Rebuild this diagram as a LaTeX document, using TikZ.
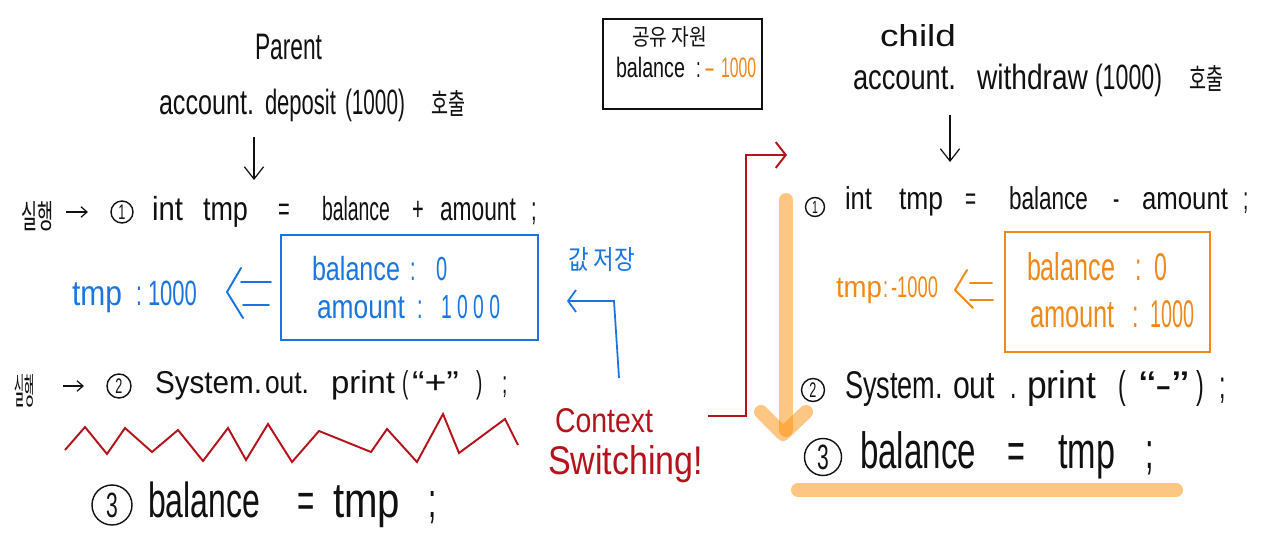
\documentclass[tikz,border=0pt]{standalone}
\usepackage{graphicx}
\usepackage{fontspec}
\setmainfont{Liberation Sans}[FakeStretch=0.6]
\newfontfamily\kr{Noto Sans CJK KR}
\usetikzlibrary{arrows.meta}
\newlength\px \setlength\px{0.02cm}
\newcommand\tk[2]{\makebox[#1\px][l]{#2}}
\newcommand\tw[3]{\makebox[#1\px][l]{\resizebox{#2\px}{\height}{#3}}}
\newcommand\fs[1]{\fontsize{#1}{#1}\selectfont}
\definecolor{ink}{HTML}{111111}
\definecolor{hblue}{HTML}{1A75E0}
\definecolor{horange}{HTML}{F0891A}
\definecolor{hred}{HTML}{B5121B}
\definecolor{hl}{HTML}{FD8E07}
\begin{document}
\begin{tikzpicture}[x=0.02cm,y=-0.02cm,
  txt/.style={anchor=base west, inner sep=0pt, outer sep=0pt, text=ink},
  cnum/.style={circle, draw=ink, line width=0.8pt, inner sep=0pt, text=ink},
  darr/.style={draw=ink, line width=0.7pt, -{Straight Barb[length=7pt,width=11pt]}},
  sarr/.style={draw=ink, line width=0.7pt, -{Straight Barb[length=3.5pt,width=6pt]}},
  hilite/.style={draw=hl, opacity=0.5, line width=14\px, line cap=round, line join=round},
  chev/.style={line width=1.1pt, line cap=round, line join=round}]
\useasboundingbox (0,0) rectangle (1280,550);
\fill[white] (0,0) rectangle (1280,550);

% ---------- highlight strokes (child side) ----------
\draw[hilite] (786,200) -- (786,430);
\draw[hilite] (761,412) -- (783,434) -- (806,412);
\draw[hilite] (798,490) -- (1176,490);

% ---------- Parent ----------
\node[txt, font=\fs{21}] (parent) at (255,60) {\resizebox{67\px}{\height}{Parent}};
\node[txt, font=\fs{20}] (pcall) at (159,115)
  {\tw{106}{95}{account.}\tw{80}{71}{deposit}\tw{86}{60}{(1000)}\resizebox{34\px}{24\px}{\kr 호출}};
\coordinate (pa1) at (254,137);
\coordinate (pa2) at (254,180);
\draw[darr] (pa1) -- (pa2);

\node[txt] (run1) at (21,229) {\resizebox{32\px}{27\px}{\kr 실행}};
\node[cnum, minimum size=22\px, font=\fs{12}] (pn1) at (122,212) {1};
\draw[sarr] ([xshift=13\px]run1.east |- pn1) -- ++(22,0);
\node[txt, font=\fs{19}] (pl1) at (152,221)
  {\tw{51}{31}{int}\tw{75}{45}{tmp}\tk{44}{=}\tw{90}{68}{balance}\tk{28}{+}\tw{91}{76}{amount};};

\node[draw=hblue, line width=0.9pt, minimum width=257\px, minimum height=105\px, inner sep=0pt] (pbox) at (409.5,287.5) {};
\node[txt, text=hblue, font=\fs{19}] (pb1) at (312,280) {\tw{98}{88}{balance}\tk{26}{:}0};
\node[txt, text=hblue, font=\fs{19}] (pb2) at (317,318) {\tw{100}{88}{amount}\tk{24}{:}\resizebox{59\px}{\height}{1\,0\,0\,0}};
\node[txt, text=hblue, font=\fs{20}] (ptmp) at (72,305) {\tw{64}{50}{tmp}\tk{12}{:}\resizebox{49\px}{\height}{1000}};
\draw[hblue, chev] (241,268) -- (227,292) -- (243,318);
\draw[hblue, chev] (241,282) -- (271,282);
\draw[hblue, chev] (243,305) -- (269,305);

\node[txt, text=hblue] (save) at (568,270) {\resizebox{67\px}{22\px}{\kr 값 저장}};
\coordinate (ba0) at (619,378);
\coordinate (ba1) at (614,301);
\coordinate (ba2) at (567,301);
\draw[hblue, line width=1pt, -{Straight Barb[length=4.5pt,width=12.5pt]}] (ba0) -- (ba1) -- (ba2);

\node[txt] (run2) at (14,404) {\resizebox{20\px}{30\px}{\kr 실행}};
\node[cnum, minimum size=24\px, font=\fs{12}] (pn2) at (119,386) {2};
\draw[sarr] ([xshift=29\px]run2.east |- pn2) -- ++(21,0);
\node[txt, font=\fs{18}] (pl2) at (155,393)
  {\tw{110}{107}{System.}\tw{66}{44}{out.}\tw{71}{64}{print}\tk{10}{(}\tw{64}{47}{“+”}\tk{26}{)};};

\draw[hred, line width=1.1pt] (65,450) -- (85,427) -- (107,454) -- (125,428) -- (152,452) -- (178,430)
  -- (203,461) -- (228,428) -- (246,460) -- (268,424) -- (292,462) -- (319,431) -- (371,452)
  -- (387,429) -- (417,462) -- (443,414) -- (459,453) -- (505,419) -- (518,445);

\node[cnum, minimum size=40\px, font=\fs{20}] (pn3) at (112,505) {3};
\node[txt, font=\fs{28}] (pl3) at (148,517) {\tw{149}{112}{balance}\tk{36}{=}\tw{95}{67}{tmp};};

% ---------- Context switching ----------
\node[txt, text=hred] (ctx1) at (555,432) {\resizebox{98\px}{24\px}{Context}};
\node[txt, text=hred] (ctx2) at (548,474) {\resizebox{155\px}{29\px}{Switching!}};
\coordinate (r0) at (708,416);
\coordinate (r1) at (746,155);
\coordinate (r2) at (787,155);
\draw[hred, line width=1.1pt, -{Straight Barb[length=5.7pt,width=14.7pt]}] (r0) -| (r1) -- (r2);

% ---------- shared resource ----------
\node[draw=ink, line width=0.8pt, minimum width=159\px, minimum height=90\px, inner sep=0pt] (shared) at (682.5,64) {};
\node[txt] (sh1) at (632,46) {\resizebox{75\px}{19\px}{\kr 공유 자원}};
\node[txt, font=\fs{16}] (sh2) at (616,78) {\tw{80}{69}{balance}\tk{8}{:}\textcolor{horange}{\tw{17}{11}{-}\resizebox{35\px}{\height}{1000}}};

% ---------- child ----------
\node[txt] (child) at (880,47) {\resizebox{76\px}{22\px}{child}};
\node[txt, font=\fs{20}] (ccall) at (853,90)
  {\tw{124}{103}{account.}\tw{118}{111}{withdraw}\tw{94}{67}{(1000)}\resizebox{34\px}{24\px}{\kr 호출}};
\coordinate (ca1) at (950,115);
\coordinate (ca2) at (950,162);
\draw[darr] (ca1) -- (ca2);

\node[cnum, minimum size=19\px, font=\fs{10}] (cn1) at (815,207) {1};
\node[txt, font=\fs{18}] (cl1) at (845,210)
  {\tw{54}{27}{int}\tw{66}{44}{tmp}\tk{44}{=}\tw{104}{79}{balance}\tk{29}{-}\tw{101}{86}{amount};};

\node[draw=horange, line width=0.9pt, minimum width=205\px, minimum height=120\px, inner sep=0pt] (cbox) at (1107.5,292) {};
\node[txt, text=horange, font=\fs{22}] (cb1) at (1027,280) {\tw{108}{88}{balance}\tk{19}{:}0};
\node[txt, text=horange, font=\fs{22}] (cb2) at (1030,327) {\tw{102}{85}{amount}\tk{18}{:}\resizebox{44\px}{\height}{1000}};
\node[txt, text=horange, font=\fs{17}] (ctmp) at (836,297) {\tw{47}{46}{tmp}\tk{8}{:}\resizebox{47\px}{\height}{-1000}};
\draw[horange, chev] (967,270) -- (955,290) -- (973,308);
\draw[horange, chev] (970,283) -- (992,283);
\draw[horange, chev] (970,300) -- (993,300);

\node[cnum, minimum size=23\px, font=\fs{12}] (cn2) at (813,390) {2};
\node[txt, font=\fs{22}] (cl2) at (845,398)
  {\tw{108}{98}{System.}\tw{57}{42}{out}\tk{17}{.}\tw{91}{69}{print}\tk{21}{(}\tw{57}{50}{“-”}\tk{24}{)};};

\node[cnum, minimum size=37\px, font=\fs{20}] (cn3) at (823,457) {3};
\node[txt, font=\fs{29}] (cl3) at (860,468) {\tw{147}{116}{balance}\tk{51}{=}\tw{87}{57}{tmp};};
\end{tikzpicture}
\end{document}
